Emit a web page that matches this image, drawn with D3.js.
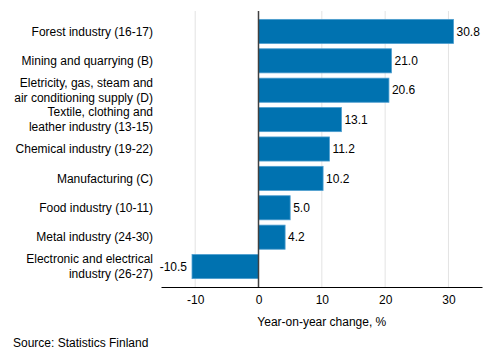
<!DOCTYPE html>
<html><head><meta charset="utf-8">
<script src="https://cdn.jsdelivr.net/npm/d3@7"></script>
<style>body{margin:0;background:#fff}svg{display:block;font-family:"Liberation Sans",Arial,sans-serif}</style>
</head><body><svg id="c" width="493" height="360"></svg>
<script>
const categories = [
  ["Forest industry (16-17)"],
  ["Mining and quarrying (B)"],
  ["Eletricity, gas, steam and", "air conditioning supply (D)"],
  ["Textile, clothing and", "leather industry (13-15)"],
  ["Chemical industry (19-22)"],
  ["Manufacturing (C)"],
  ["Food industry (10-11)"],
  ["Metal industry (24-30)"],
  ["Electronic and electrical", "industry (26-27)"]
];
const values = [30.8, 21.0, 20.6, 13.1, 11.2, 10.2, 5.0, 4.2, -10.5];
const tickValues = [-10, 0, 10, 20, 30];
const axisTitle = "Year-on-year change, %";
const source = "Source: Statistics Finland";

const svg = d3.select("#c");
const x = d3.scaleLinear().domain([-15.4, 35.3]).range([161, 482]);
const y = d3.scaleBand().domain(d3.range(categories.length)).range([11, 287]).paddingInner(0.18).paddingOuter(0.285);

// gridlines
svg.append("g").selectAll("line").data(tickValues.filter(d => d !== 0)).join("line")
  .attr("x1", d => x(d)).attr("x2", d => x(d)).attr("y1", 11).attr("y2", 287)
  .attr("stroke", "#e3e3e3").attr("stroke-width", 1);

// bars
svg.append("g").selectAll("rect").data(values).join("rect")
  .attr("x", d => Math.min(x(0), x(d)))
  .attr("y", (d, i) => y(i))
  .attr("width", d => Math.abs(x(d) - x(0)))
  .attr("height", y.bandwidth())
  .attr("fill", "#0072b0").attr("stroke", "#4c9dcf").attr("stroke-width", 0.8);

// zero line
svg.append("line").attr("x1", x(0)).attr("x2", x(0)).attr("y1", 11).attr("y2", 287)
  .attr("stroke", "#404040").attr("stroke-width", 1.5);

// value labels
svg.append("g").selectAll("text").data(values).join("text")
  .attr("x", d => d >= 0 ? x(d) + 3 : x(d) - 5)
  .attr("y", (d, i) => y(i) + y.bandwidth() / 2)
  .attr("dy", "0.35em")
  .attr("text-anchor", d => d >= 0 ? "start" : "end")
  .attr("font-size", 12).attr("fill", "#000")
  .text(d => d.toFixed(1));

// category labels
const cl = svg.append("g").selectAll("text").data(categories).join("text")
  .attr("text-anchor", "end").attr("font-size", 12).attr("fill", "#000")
  .attr("transform", (d, i) => `translate(153,${y(i) + y.bandwidth() / 2})`);
cl.selectAll("tspan").data(d => d.map((t, j) => ({t, j, n: d.length}))).join("tspan")
  .attr("x", 0)
  .attr("y", d => (d.j - (d.n - 1) / 2) * 15)
  .attr("dy", "0.35em")
  .text(d => d.t);

// x axis
const ax = svg.append("g").attr("transform", "translate(0,287)")
  .call(d3.axisBottom(x).tickValues(tickValues).tickSize(0).tickPadding(8).tickFormat(d => String(d)));
ax.select(".domain").attr("stroke", "#000").attr("stroke-width", 1);
ax.selectAll("text").attr("font-size", 12).attr("fill", "#000").attr("font-family", "Liberation Sans, Arial, sans-serif");

svg.append("text").attr("x", x(10)).attr("y", 326).attr("text-anchor", "middle")
  .attr("font-size", 12).attr("fill", "#000").text(axisTitle);

svg.append("text").attr("x", 13).attr("y", 347).attr("font-size", 12).attr("fill", "#000").text(source);
</script></body></html>
